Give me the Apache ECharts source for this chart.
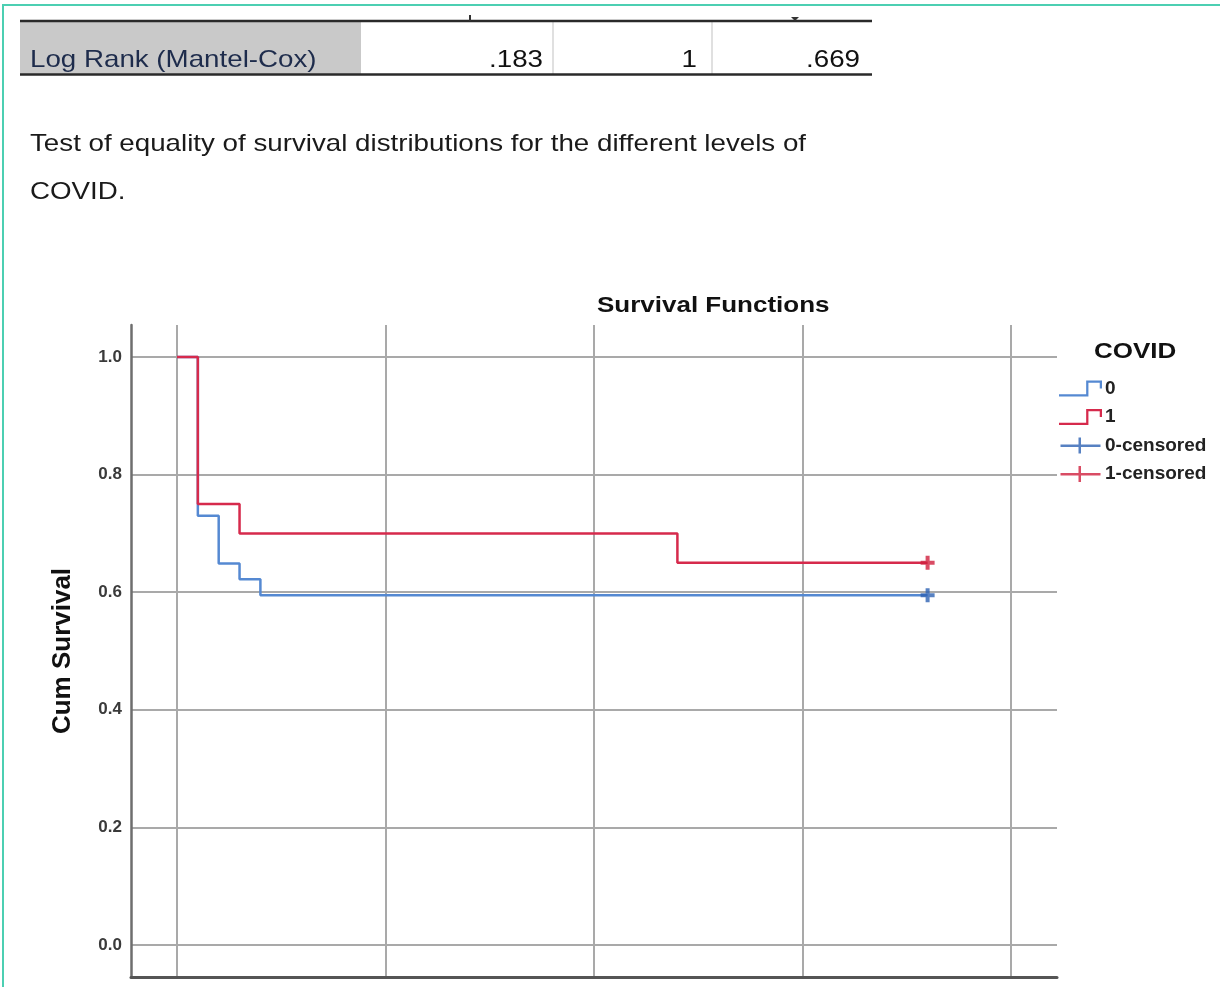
<!DOCTYPE html>
<html>
<head>
<meta charset="utf-8">
<script src="https://cdn.jsdelivr.net/npm/echarts@6/dist/echarts.min.js"></script>
<style>
  html, body { margin: 0; padding: 0; background: #ffffff; }
  #chart { width: 1220px; height: 987px; }
</style>
</head>
<body>
<div id="chart"></div>
<script>
// ---- Data ----
const seriesNames = ['0', '1'];
const censoredNames = ['0-censored', '1-censored'];
const legendTitle = 'COVID';
// Kaplan-Meier step points [time, cumulative survival]
const covid0Steps = [[0, 1.0], [1, 0.730], [2, 0.649], [3, 0.622], [4, 0.595], [36, 0.595]];
const covid1Steps = [[0, 1.0], [1, 0.75], [3, 0.70], [24, 0.65], [36, 0.65]];
// Censored observations
const covid0Censored = [[36, 0.595]];
const covid1Censored = [[36, 0.65]];
// Test table
const testLabel = 'Log Rank (Mantel-Cox)';
const testValues = ['.183', '1', '.669'];
const captionLines = ['Test of equality of survival distributions for the different levels of', 'COVID.'];
const chartTitle = 'Survival Functions';
const yAxisName = 'Cum Survival';

// ---- Styles ----
const BLUE = '#5589d2';
const BLUE_DARK = '#2d62b3';
const RED = '#d62a4c';
const RED_DARK = '#cf1f3d';
const GRID_COLOR = '#a9a9a9';
const FONT = '"Liberation Sans", Arial, sans-serif';
const SX = 1.155; // horizontal stretch of the document text

const stepIcon = 'path://M0,14H24V2H38V9H36V4H26V16H0Z';
const plusIcon = 'path://M0,7H18V0H20.5V7H40V9.5H20.5V16H18V9.5H0Z';
const plusSymbol = 'path://M5,0H9V5H14V9H9V14H5V9H0V5H5Z';

const chart = echarts.init(document.getElementById('chart'), null, { renderer: 'canvas' });

const valueCols = [543, 697, 860];

function stretchedText(x, y, text, font, fill, align) {
  return { type: 'text', x: x, y: y, scaleX: SX, silent: true,
    style: { text: text, font: font, fill: fill, verticalAlign: 'middle', align: align } };
}

const graphics = [
  // teal page border
  { type: 'rect', shape: { x: 2, y: 4, width: 2, height: 990 }, style: { fill: '#4ccfb2' }, silent: true },
  { type: 'rect', shape: { x: 2, y: 4, width: 1230, height: 2 }, style: { fill: '#4ccfb2' }, silent: true },
  // table
  { type: 'rect', shape: { x: 20, y: 22, width: 341, height: 52 }, style: { fill: '#c9c9c9' }, silent: true },
  { type: 'line', shape: { x1: 553, y1: 22, x2: 553, y2: 74 }, style: { stroke: '#d6d6d6', lineWidth: 1.5 }, silent: true },
  { type: 'line', shape: { x1: 712, y1: 22, x2: 712, y2: 74 }, style: { stroke: '#d6d6d6', lineWidth: 1.5 }, silent: true },
  { type: 'line', shape: { x1: 20, y1: 21, x2: 872, y2: 21 }, style: { stroke: '#2a2a2a', lineWidth: 2.5 }, silent: true },
  { type: 'line', shape: { x1: 20, y1: 74.5, x2: 872, y2: 74.5 }, style: { stroke: '#2a2a2a', lineWidth: 2.5 }, silent: true },
  { type: 'line', shape: { x1: 470, y1: 15, x2: 470, y2: 21 }, style: { stroke: '#333', lineWidth: 2 }, silent: true },
  { type: 'polygon', shape: { points: [[791, 17], [799, 17], [795, 21]] }, style: { fill: '#333' }, silent: true },
  stretchedText(30, 60, testLabel, '24px ' + FONT, '#1e2c4c', 'left'),
  // chart title and legend title
  stretchedText(597, 306, chartTitle, 'bold 22.5px ' + FONT, '#111', 'left'),
  stretchedText(1094, 352, legendTitle, 'bold 22.5px ' + FONT, '#111', 'left')
];
testValues.forEach((v, i) => {
  graphics.push(stretchedText(valueCols[i], 60, v, '24px ' + FONT, '#111', 'right'));
});
captionLines.forEach((t, i) => {
  graphics.push(stretchedText(30, 144 + i * 48, t, '24px ' + FONT, '#1a1a1a', 'left'));
});

const option = {
  backgroundColor: '#ffffff',
  animation: false,
  legend: {
    orient: 'vertical',
    left: 1059,
    top: 379,
    padding: 0,
    itemWidth: 43,
    itemHeight: 16,
    itemGap: 9.5,
    textStyle: { fontFamily: FONT, fontWeight: 'bold', fontSize: 19, lineHeight: 16, color: '#222', padding: [0, 0, 0, -2] },
    data: [
      { name: seriesNames[0], icon: stepIcon },
      { name: seriesNames[1], icon: stepIcon },
      { name: censoredNames[0], icon: plusIcon },
      { name: censoredNames[1], icon: plusIcon }
    ],
    selectedMode: false
  },
  grid: { left: 131, right: 163, top: 325, bottom: 10, containLabel: false },
  xAxis: {
    type: 'value',
    min: -2.206,
    max: 42.206,
    splitNumber: 4,
    axisLine: { show: true, onZero: false, lineStyle: { color: '#555', width: 3 } },
    axisTick: { show: false },
    axisLabel: { show: false },
    splitLine: { show: true, showMinLine: false, showMaxLine: false, lineStyle: { color: GRID_COLOR, width: 2 } }
  },
  yAxis: {
    type: 'value',
    min: -0.0544,
    max: 1.0544,
    splitNumber: 5,
    name: yAxisName,
    nameLocation: 'middle',
    nameGap: 55,
    nameTextStyle: { fontFamily: FONT, fontWeight: 'bold', fontSize: 26, color: '#111' },
    axisLine: { show: true, onZero: false, lineStyle: { color: '#6e6e6e', width: 2.5 } },
    axisTick: { show: false },
    axisLabel: {
      showMinLabel: false,
      showMaxLabel: false,
      margin: 9,
      fontFamily: FONT,
      fontWeight: 'bold',
      fontSize: 17,
      color: '#3a3a3a',
      formatter: v => v.toFixed(1)
    },
    splitLine: { show: true, showMinLine: false, showMaxLine: false, lineStyle: { color: GRID_COLOR, width: 2 } }
  },
  series: [
    {
      name: seriesNames[0], type: 'line', step: 'end', data: covid0Steps,
      showSymbol: false, symbol: 'none',
      lineStyle: { color: BLUE, width: 2.5 }, itemStyle: { color: BLUE }, z: 3
    },
    {
      name: seriesNames[1], type: 'line', step: 'end', data: covid1Steps,
      showSymbol: false, symbol: 'none',
      lineStyle: { color: RED, width: 2.5 }, itemStyle: { color: RED }, z: 4
    },
    {
      name: censoredNames[0], type: 'scatter', data: covid0Censored,
      symbol: plusSymbol, symbolSize: 14, itemStyle: { color: BLUE_DARK }, z: 5
    },
    {
      name: censoredNames[1], type: 'scatter', data: covid1Censored,
      symbol: plusSymbol, symbolSize: 14, itemStyle: { color: RED_DARK }, z: 5
    }
  ],
  graphic: graphics
};

chart.setOption(option);
</script>
</body>
</html>
